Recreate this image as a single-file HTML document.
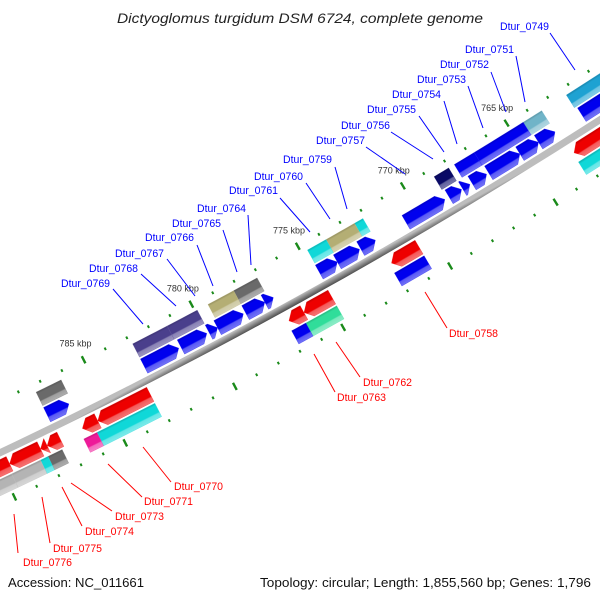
<!DOCTYPE html>
<html>
<head>
<meta charset="utf-8">
<style>
  html,body{margin:0;padding:0;background:#fff;}
  svg{display:block;}
  text{font-family:"Liberation Sans", "DejaVu Sans", sans-serif;}
</style>
</head>
<body>
<svg id="map" width="600" height="600" viewBox="0 0 600 600" xmlns="http://www.w3.org/2000/svg">
  <defs id="defs"></defs>
  <rect x="0" y="0" width="600" height="600" fill="#ffffff"/>
  <text x="117" y="23" font-size="14" font-style="italic" fill="#222" textLength="366" lengthAdjust="spacingAndGlyphs">Dictyoglomus turgidum DSM 6724, complete genome</text>
  <g id="ticks"></g>
  <g id="backbone"></g>
  <g id="genes"></g>
  <g id="leaders" font-size="11">
    <g><line x1="550" y1="33" x2="575" y2="70" stroke="#0000ff"/><text x="500" y="30" fill="#0000ff" textLength="49" lengthAdjust="spacingAndGlyphs">Dtur_0749</text></g>
    <g><line x1="516" y1="56" x2="525" y2="102" stroke="#0000ff"/><text x="465" y="53" fill="#0000ff" textLength="49" lengthAdjust="spacingAndGlyphs">Dtur_0751</text></g>
    <g><line x1="491" y1="72" x2="506" y2="112" stroke="#0000ff"/><text x="440" y="68" fill="#0000ff" textLength="49" lengthAdjust="spacingAndGlyphs">Dtur_0752</text></g>
    <g><line x1="468" y1="86" x2="483" y2="128" stroke="#0000ff"/><text x="417" y="83" fill="#0000ff" textLength="49" lengthAdjust="spacingAndGlyphs">Dtur_0753</text></g>
    <g><line x1="444" y1="101" x2="457" y2="144" stroke="#0000ff"/><text x="392" y="98" fill="#0000ff" textLength="49" lengthAdjust="spacingAndGlyphs">Dtur_0754</text></g>
    <g><line x1="419" y1="116" x2="444" y2="152" stroke="#0000ff"/><text x="367" y="113" fill="#0000ff" textLength="49" lengthAdjust="spacingAndGlyphs">Dtur_0755</text></g>
    <g><line x1="391" y1="132" x2="433" y2="159" stroke="#0000ff"/><text x="341" y="129" fill="#0000ff" textLength="49" lengthAdjust="spacingAndGlyphs">Dtur_0756</text></g>
    <g><line x1="366" y1="147" x2="405" y2="174" stroke="#0000ff"/><text x="316" y="144" fill="#0000ff" textLength="49" lengthAdjust="spacingAndGlyphs">Dtur_0757</text></g>
    <g><line x1="335" y1="167" x2="347" y2="209" stroke="#0000ff"/><text x="283" y="163" fill="#0000ff" textLength="49" lengthAdjust="spacingAndGlyphs">Dtur_0759</text></g>
    <g><line x1="306" y1="183" x2="330" y2="219" stroke="#0000ff"/><text x="254" y="180" fill="#0000ff" textLength="49" lengthAdjust="spacingAndGlyphs">Dtur_0760</text></g>
    <g><line x1="280" y1="198" x2="310" y2="232" stroke="#0000ff"/><text x="229" y="194" fill="#0000ff" textLength="49" lengthAdjust="spacingAndGlyphs">Dtur_0761</text></g>
    <g><line x1="248" y1="215" x2="251" y2="265" stroke="#0000ff"/><text x="197" y="212" fill="#0000ff" textLength="49" lengthAdjust="spacingAndGlyphs">Dtur_0764</text></g>
    <g><line x1="223" y1="230" x2="237" y2="272" stroke="#0000ff"/><text x="172" y="227" fill="#0000ff" textLength="49" lengthAdjust="spacingAndGlyphs">Dtur_0765</text></g>
    <g><line x1="197" y1="245" x2="213" y2="286" stroke="#0000ff"/><text x="145" y="241" fill="#0000ff" textLength="49" lengthAdjust="spacingAndGlyphs">Dtur_0766</text></g>
    <g><line x1="167" y1="259" x2="195" y2="296" stroke="#0000ff"/><text x="115" y="257" fill="#0000ff" textLength="49" lengthAdjust="spacingAndGlyphs">Dtur_0767</text></g>
    <g><line x1="141" y1="274" x2="176" y2="306" stroke="#0000ff"/><text x="89" y="272" fill="#0000ff" textLength="49" lengthAdjust="spacingAndGlyphs">Dtur_0768</text></g>
    <g><line x1="113" y1="289" x2="143" y2="324" stroke="#0000ff"/><text x="61" y="287" fill="#0000ff" textLength="49" lengthAdjust="spacingAndGlyphs">Dtur_0769</text></g>
    <g><line x1="447" y1="328" x2="425" y2="292" stroke="#ff0000"/><text x="449" y="337" fill="#ff0000" textLength="49" lengthAdjust="spacingAndGlyphs">Dtur_0758</text></g>
    <g><line x1="360" y1="377" x2="336" y2="342" stroke="#ff0000"/><text x="363" y="386" fill="#ff0000" textLength="49" lengthAdjust="spacingAndGlyphs">Dtur_0762</text></g>
    <g><line x1="335" y1="392" x2="314" y2="354" stroke="#ff0000"/><text x="337" y="401" fill="#ff0000" textLength="49" lengthAdjust="spacingAndGlyphs">Dtur_0763</text></g>
    <g><line x1="171" y1="482" x2="143" y2="447" stroke="#ff0000"/><text x="174" y="490" fill="#ff0000" textLength="49" lengthAdjust="spacingAndGlyphs">Dtur_0770</text></g>
    <g><line x1="142" y1="497" x2="108" y2="464" stroke="#ff0000"/><text x="144" y="505" fill="#ff0000" textLength="49" lengthAdjust="spacingAndGlyphs">Dtur_0771</text></g>
    <g><line x1="112" y1="511" x2="71" y2="483" stroke="#ff0000"/><text x="115" y="520" fill="#ff0000" textLength="49" lengthAdjust="spacingAndGlyphs">Dtur_0773</text></g>
    <g><line x1="82" y1="526" x2="62" y2="487" stroke="#ff0000"/><text x="85" y="535" fill="#ff0000" textLength="49" lengthAdjust="spacingAndGlyphs">Dtur_0774</text></g>
    <g><line x1="50" y1="543" x2="42" y2="497" stroke="#ff0000"/><text x="53" y="552" fill="#ff0000" textLength="49" lengthAdjust="spacingAndGlyphs">Dtur_0775</text></g>
    <g><line x1="18" y1="553" x2="14" y2="514" stroke="#ff0000"/><text x="23" y="566" fill="#ff0000" textLength="49" lengthAdjust="spacingAndGlyphs">Dtur_0776</text></g>
  </g>
  <text x="8" y="587" font-size="13" fill="#111" textLength="136" lengthAdjust="spacingAndGlyphs">Accession: NC_011661</text>
  <text x="260" y="587" font-size="13" fill="#111" textLength="331" lengthAdjust="spacingAndGlyphs">Topology: circular; Length: 1,855,560 bp; Genes: 1,796</text>
</svg>
<script>
// ---- data (kbp) ----
const geneStart = [758.0,763.5,764.3,765.2,766.8,767.6,768.0,768.8,772.1,772.85,773.9,776.9,777.3,778.3,779.5,780.0,781.3,786.35,
  758.0,763.5,764.4,766.77,768.0,772.1,772.5,773.85,777.1,778.2,779.9,781.3,786.2,
  758.0,770.7,774.8,776.1,783.2,785.6,787.3,787.9,788.2,789.6,
  758.0,770.7,774.8,776.24,783.2,785.84,787.42,788.06,788.4,789.7];
const geneEnd = [762.2,764.3,765.2,766.7,767.5,767.95,768.6,770.65,772.8,773.9,774.75,777.3,778.2,779.5,779.9,781.2,782.9,787.35,
  762.3,764.4,766.77,767.73,768.7,772.5,773.85,774.73,778.2,779.4,781.3,782.9,787.35,
  763.3,772.0,776.1,776.8,785.6,786.3,787.9,788.2,789.6,792.0,
  763.35,772.1,776.24,776.9,785.84,786.44,788.06,788.4,789.7,792.0];
const geneTrack = ["A","A","A","A","A","A","A","A","A","A","A","A","A","A","A","A","A","A",
  "B","B","B","B","B","B","B","B","B","B","B","B","B",
  "C","C","C","C","C","C","C","C","C","C",
  "D","D","D","D","D","D","D","D","D","D"];
const geneColor = ["blue","blue","blue","blue","blue","blue","blue","blue","blue","blue","blue","blue","blue","blue","blue","blue","blue","blue",
  "steel","cyangray","blue","blue","navy","cyan","olive","cyan","gray","olive","slate","slate","gray",
  "red","red","red","red","red","red","red","red","red","red",
  "cyan","blue","green","blue","cyan","magenta","gray","cyan","lightgray","lightgray"];
const tickKbp = [755,756,757,758,759,760,761,762,763,764,765,766,767,768,769,770,771,772,773,774,775,776,777,778,779,780,781,782,783,784,785,786,787,788,789,790,791,792,793,794,795];
const tickLabels = [765,770,775,780,785];

// ---- geometry ----
const cx=-2310, cy=-4416, R=5389;
function ang(k){return (58.18+(k-765)*0.26)*Math.PI/180;}
function pt(k,r){const a=ang(k);return [cx+r*Math.cos(a), cy+r*Math.sin(a)];}
const trackR = {A:[R-22,R-6],B:[R-39,R-24],C:[R+6,R+22],D:[R+24,R+39]};
const palette = {blue:"#0000ee",red:"#ee0000",gray:"#6a6a6a",olive:"#b4ae74",slate:"#4a3f8c",navy:"#0a0a66",
  cyan:"#10d8d8",green:"#30dd9a",magenta:"#ee1a99",lightgray:"#b4b4b4",steel:"#1ea2d2",cyangray:"#70b4c8"};
const NS="http://www.w3.org/2000/svg";
const defs=document.getElementById('defs');

function mix(hex,t,target){
  const n=parseInt(hex.slice(1),16);let r=n>>16,g=(n>>8)&255,b=n&255;
  const tv=target;r=Math.round(r+(tv-r)*t);g=Math.round(g+(tv-g)*t);b=Math.round(b+(tv-b)*t);
  return "rgb("+r+","+g+","+b+")";
}
let gid=0;
function makeGrad(k,r0,r1,stops){
  const id="g"+(gid++);
  const lg=document.createElementNS(NS,'linearGradient');
  lg.setAttribute('id',id);lg.setAttribute('gradientUnits','userSpaceOnUse');
  const p0=pt(k,r0),p1=pt(k,r1);
  lg.setAttribute('x1',p0[0]);lg.setAttribute('y1',p0[1]);lg.setAttribute('x2',p1[0]);lg.setAttribute('y2',p1[1]);
  stops.forEach(s=>{const st=document.createElementNS(NS,'stop');st.setAttribute('offset',s[0]);st.setAttribute('stop-color',s[1]);lg.appendChild(st);});
  defs.appendChild(lg);return id;
}

// ---- ticks ----
const tg=document.getElementById('ticks');
[R-47,R+46].forEach(rr=>{
  tickKbp.forEach(k=>{
    const major=(k%5===0);
    const h=major?4:1.4;
    const a=pt(k,rr-h),b=pt(k,rr+h);
    const l=document.createElementNS(NS,'line');
    l.setAttribute('x1',a[0]);l.setAttribute('y1',a[1]);l.setAttribute('x2',b[0]);l.setAttribute('y2',b[1]);
    l.setAttribute('stroke','#1a8a1a');l.setAttribute('stroke-width',major?2.4:2);
    
    
    tg.appendChild(l);
  });
});
tickLabels.forEach(k=>{
  const p=pt(k,R-65);
  const t=document.createElementNS(NS,'text');
  t.setAttribute('x',p[0]);t.setAttribute('y',p[1]+3);
  t.setAttribute('text-anchor','middle');t.setAttribute('font-size','9');t.setAttribute('fill','#333');
  t.textContent=k+" kbp";
  
  
  tg.appendChild(t);
});

// ---- backbone ----
(function(){
  const bg=document.getElementById('backbone');
  const pts=[];
  for(let k=750;k<=800;k+=1)pts.push(pt(k,R-3.5));
  for(let k=800;k>=750;k-=1)pts.push(pt(k,R+3.5));
  const id=makeGrad(776,R-3.5,R+3.5,[[0,"#bdbdbd"],[0.45,"#8a8a8a"],[1,"#4a4a4a"]]);
  const p=document.createElementNS(NS,'polygon');
  p.setAttribute('points',pts.map(q=>q[0].toFixed(2)+","+q[1].toFixed(2)).join(" "));
  p.setAttribute('fill','url(#'+id+')');
  
  
  bg.appendChild(p);
})();

// ---- genes ----
const gg=document.getElementById('genes');
for(let i=0;i<geneStart.length;i++){
  const s=geneStart[i],e=geneEnd[i],tr=geneTrack[i];
  const [r0,r1]=trackR[tr];const rm=(r0+r1)/2;
  const len=e-s;const head=Math.min(0.3,len);
  const pts=[];
  const N=6;
  if(tr==="A"){
    const b=s+head;
    for(let j=0;j<=N;j++){const k=b+(e-b)*j/N;pts.push(pt(k,r0));}
    for(let j=N;j>=0;j--){const k=b+(e-b)*j/N;pts.push(pt(k,r1));}
    pts.push(pt(s,rm));
  } else if(tr==="C"){
    const b=e-head;
    for(let j=0;j<=N;j++){const k=s+(b-s)*j/N;pts.push(pt(k,r0));}
    pts.push(pt(e,rm));
    for(let j=N;j>=0;j--){const k=s+(b-s)*j/N;pts.push(pt(k,r1));}
  } else {
    for(let j=0;j<=N;j++){const k=s+len*j/N;pts.push(pt(k,r0));}
    for(let j=N;j>=0;j--){const k=s+len*j/N;pts.push(pt(k,r1));}
  }
  const c=palette[geneColor[i]];
  const id=makeGrad((s+e)/2,r0,r1,[[0,mix(c,0.18,0)],[0.15,c],[0.62,c],[0.7,mix(c,0.35,255)],[1,mix(c,0.45,255)]]);
  const p=document.createElementNS(NS,'polygon');
  p.setAttribute('points',pts.map(q=>q[0].toFixed(2)+","+q[1].toFixed(2)).join(" "));
  p.setAttribute('fill','url(#'+id+')');
  p.setAttribute('stroke',mix(c,0.1,255));p.setAttribute('stroke-width','0.3');
  
  
  gg.appendChild(p);
}
</script>
</body>
</html>
